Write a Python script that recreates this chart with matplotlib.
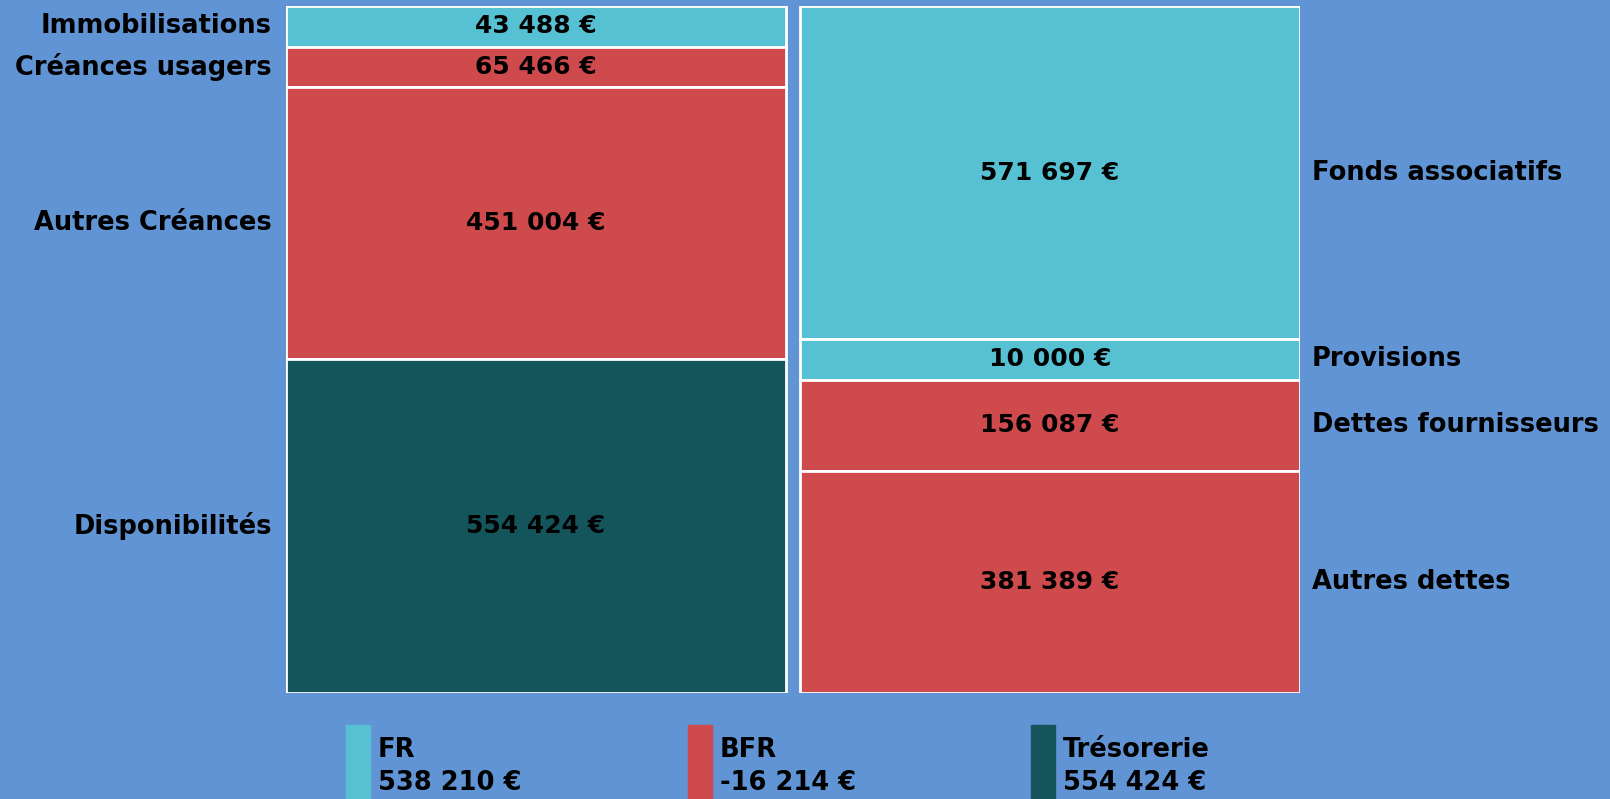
import numpy as np
import matplotlib
matplotlib.use("Agg")
import matplotlib.pyplot as plt

matplotlib.rcParams['font.family'] = ['DejaVu Sans']
matplotlib.rcParams['font.weight'] = 'bold'

# ---- data ----
actif_labels = ["Immobilisations", "Créances usagers", "Autres Créances", "Disponibilités"]
actif_values = [43488, 65466, 451004, 554424]
actif_groups = ["FR", "BFR", "BFR", "TRESO"]

passif_labels = ["Fonds associatifs", "Provisions", "Dettes fournisseurs", "Autres dettes"]
passif_values = [571697, 10000, 156087, 381389]
passif_groups = ["FR", "FR", "BFR", "BFR"]

legend_names = ["FR", "BFR", "Trésorerie"]
legend_values = [538210, -16214, 554424]

colors = {"FR": "#55c1d3", "BFR": "#cf4a4d", "TRESO": "#14555c"}
bg = "#6094d4"
min_frac = 0.059


def fmt(v):
    s = "{:,}".format(abs(v)).replace(",", " ")
    return ("-" if v < 0 else "") + s + " €"


def heights(vals):
    # small blocks get a minimum height, the rest share what is left
    vals = np.array(vals, dtype=float)
    f = vals / vals.sum()
    small = f < min_frac
    h = np.where(small, min_frac, 0.0)
    rest = 1 - small.sum() * min_frac
    h[~small] = vals[~small] / vals[~small].sum() * rest
    return h


fig = plt.figure(figsize=(16.1, 7.99), dpi=100, facecolor=bg)
ax = fig.add_axes([286 / 1610, 1 - 693 / 799, (1300 - 286) / 1610, (693 - 6) / 799])
ax.set_facecolor(bg)
ax.set_xlim(-0.486, 1.486)
ax.set_ylim(1, 0)
ax.axis("off")

fs_val = 18
fs_lab = 18.5
w = 0.972
for xpos, labels, vals, groups, side in [(0, actif_labels, actif_values, actif_groups, "left"),
                                         (1, passif_labels, passif_values, passif_groups, "right")]:
    h = heights(vals)
    bottoms = np.concatenate([[0], np.cumsum(h)[:-1]])
    ax.bar([xpos] * len(h), h, bottom=bottoms, width=w,
           color=[colors[g] for g in groups], edgecolor="white", linewidth=2)
    for lab, v, b, hh in zip(labels, vals, bottoms, h):
        yc = b + hh / 2
        ax.text(xpos, yc, fmt(v), ha="center", va="center", fontsize=fs_val,
                fontweight="bold", color="black")
        if side == "left":
            ax.text(xpos - w / 2 - 0.027, yc, lab, ha="right", va="center",
                    fontsize=fs_lab, fontweight="bold", color="black", clip_on=False)
        else:
            ax.text(xpos + w / 2 + 0.023, yc, lab, ha="left", va="center",
                    fontsize=fs_lab, fontweight="bold", color="black", clip_on=False)

# legend
leg_x = [346, 688, 1031]
leg_keys = ["FR", "BFR", "TRESO"]
for x0, key, name, val in zip(leg_x, leg_keys, legend_names, legend_values):
    fig.patches.append(plt.Rectangle((x0 / 1610, 0), 24 / 1610, 1 - 725 / 799,
                                     transform=fig.transFigure, color=colors[key]))
    fig.text((x0 + 32) / 1610, 1 - 750 / 799, name, ha="left", va="center",
             fontsize=fs_lab, fontweight="bold", color="black")
    fig.text((x0 + 32) / 1610, 1 - 783 / 799, fmt(val), ha="left", va="center",
             fontsize=fs_lab, fontweight="bold", color="black")

fig.savefig("out.png", dpi=100, facecolor=bg)
